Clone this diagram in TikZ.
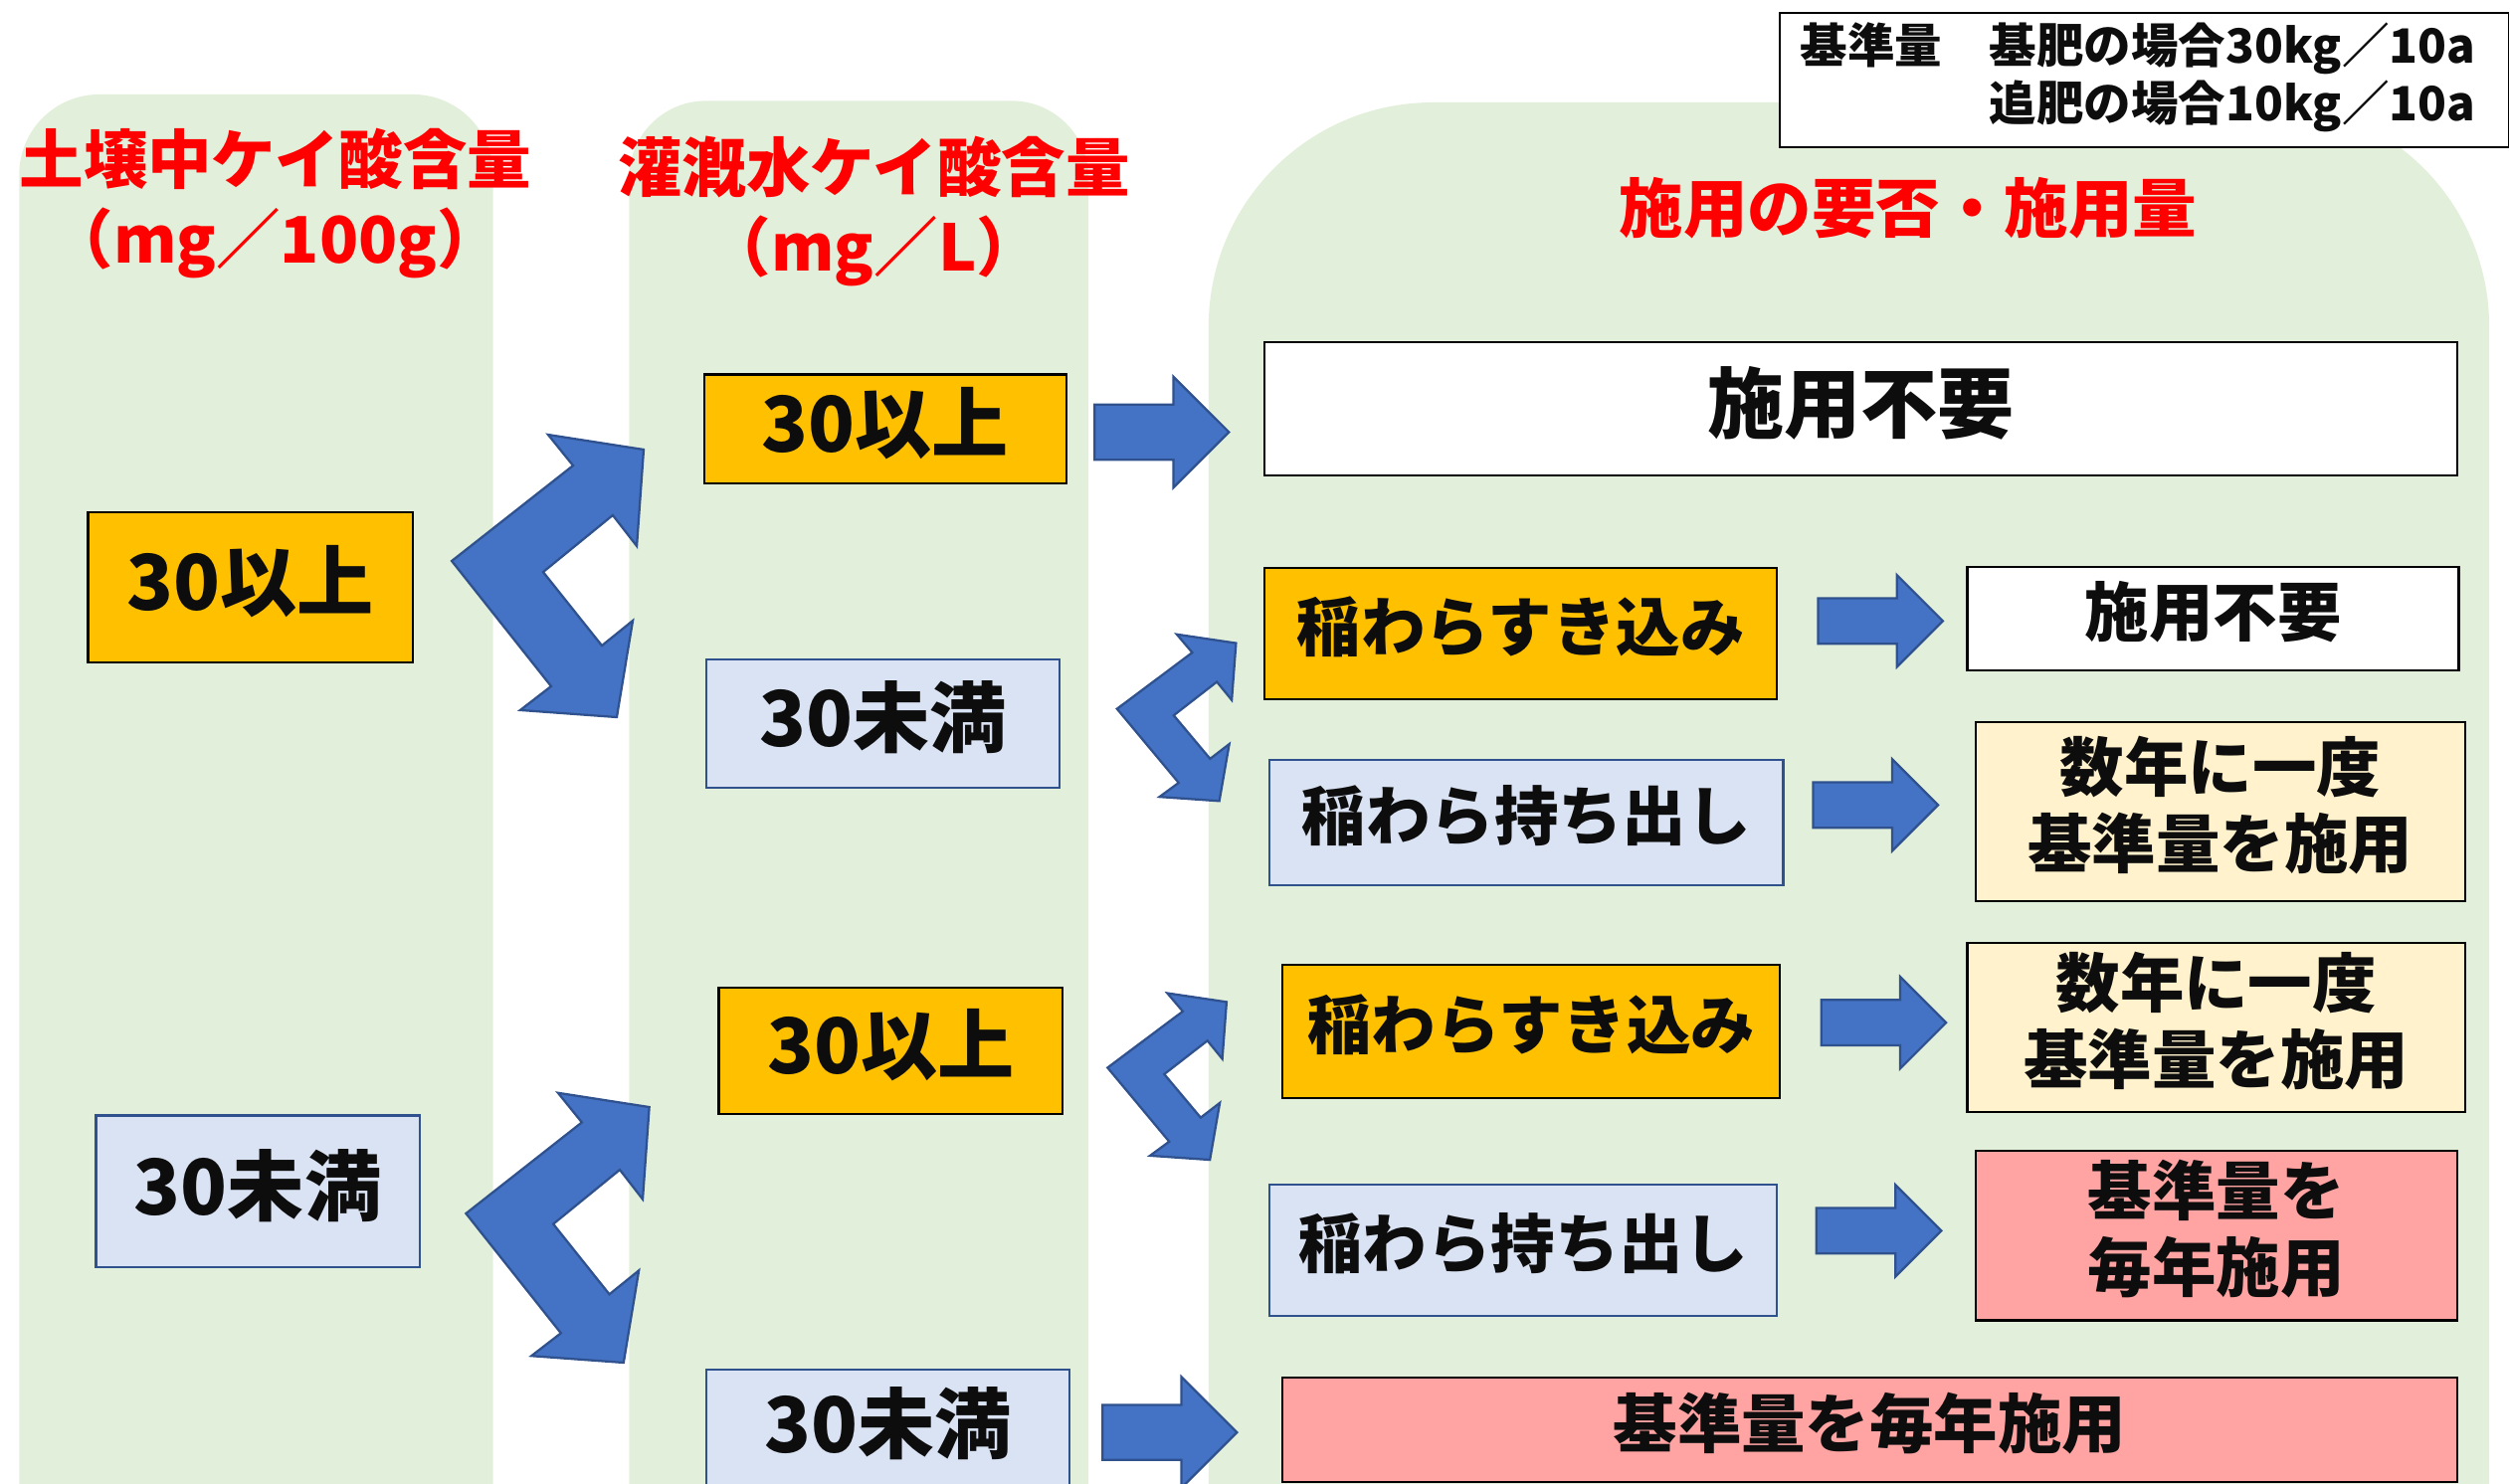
\documentclass[tikz,border=0pt]{standalone}
\usepackage{fontspec}
\setmainfont{Noto Sans CJK JP}
\usepackage{tikz}
\usetikzlibrary{shapes.arrows,positioning}

\definecolor{panelgreen}{HTML}{E2EFDA}
\definecolor{boxorange}{HTML}{FFC000}
\definecolor{boxblue}{HTML}{DAE3F3}
\definecolor{boxyellow}{HTML}{FFF2CC}
\definecolor{boxpink}{HTML}{FFA3A3}
\definecolor{arrowblue}{HTML}{4472C4}
\definecolor{arrowedge}{HTML}{2F528F}
\definecolor{inkblack}{HTML}{0D0D0D}

\def\pxl{0.02cm}

\tikzset{
  blockarrow/.style={fill=arrowblue, draw=arrowedge, line width=0.8pt},
  pics/forkarrow/.style={code={
    \draw[blockarrow] (0,0) -- (75.8,-59.6) -- (60.2,-78.9) -- (119.9,-69.6) -- (115.6,-9.3)
      -- (100.6,-28.6) -- (57.1,6.9) -- (93.8,52.9) -- (113.1,37.3) -- (103.1,97.6)
      -- (42.8,93.2) -- (62.1,78.3) -- cycle;
  }}
}

\begin{document}
\begin{tikzpicture}[x=\pxl, y=-\pxl,
  panel/.style={fill=panelgreen},
  heading/.style={text=red, align=center, font=\bfseries\fontsize{22.8}{28.5}\selectfont},
  cell/.style={draw=black, line width=0.75pt, text=inkblack, inner sep=0pt, align=center,
    execute at end node={\rule[-0.24cm]{0pt}{0pt}}},
  hicell/.style={cell, fill=boxorange},
  locell/.style={cell, fill=boxblue, draw=arrowedge},
  plaincell/.style={cell, fill=white},
  oncecell/.style={cell, fill=boxyellow},
  yearcell/.style={cell, fill=boxpink},
  bigtext/.style={font=\bfseries\fontsize{27.3}{32}\selectfont},
  midtext/.style={font=\bfseries\fontsize{22.8}{27.3}\selectfont},
  bigarrow/.style={blockarrow, single arrow, anchor=west, inner xsep=0pt, inner ysep=16.5*\pxl, minimum height=84*\pxl, minimum width=68*\pxl, single arrow head extend=17.5*\pxl},
  smallarrow/.style={blockarrow, single arrow, anchor=west, inner xsep=0pt, inner ysep=13.5*\pxl, minimum height=78*\pxl, minimum width=56*\pxl, single arrow head extend=14.5*\pxl}]
\useasboundingbox (0,0) rectangle (1568,927);
\clip (0,0) rectangle (1568,927);

% --- Background panels ---
\fill[panel, rounded corners=50*\pxl] (12,1000) rectangle (308,59);
\fill[panel, rounded corners=48*\pxl] (393,1000) rectangle (680,63);
\fill[panel, rounded corners=140*\pxl] (755,1100) rectangle (1555,64);

% Column headings
\node[heading] (Hsoil) at (172,127) {土壌中ケイ酸含量\\（mg／100g）};
\node[heading] (Hwater) at (546,132) {灌漑水ケイ酸含量\\（mg／L）};
\node[heading] (Hneed) at (1192,130) {施用の要否・施用量};

% Reference amount
\node[draw=black, line width=0.6pt, fill=white, inner sep=0pt, minimum width=455*\pxl, minimum height=84*\pxl] (Ref) at (1339.5,50) {};
\node[anchor=west, inner sep=0pt, text=inkblack, font=\bfseries\fontsize{16.8}{19.9}\selectfont, right=13*\pxl of Ref.west] (RefT)
  {\begin{tabular}{@{}l@{}l@{}}基準量　&基肥の場合30kg／10a\\&追肥の場合10kg／10a\end{tabular}};

% --- Soil column ---
\node[hicell, bigtext, minimum width=203*\pxl, minimum height=94*\pxl] (S1) at (156.5,367) {30以上};
\node[locell, bigtext, minimum width=202*\pxl, minimum height=95*\pxl] (S2) at (161,744.5) {30未満};

% --- Water column ---
\node[hicell, bigtext, minimum width=226*\pxl, minimum height=68*\pxl] (W1) at (553,268) {30以上};
\node[locell, bigtext, minimum width=221*\pxl, minimum height=80*\pxl] (W2) at (551.5,452) {30未満};
\node[hicell, bigtext, minimum width=215*\pxl, minimum height=79*\pxl] (W3) at (556.5,656.5) {30以上};
\node[locell, bigtext, minimum width=227*\pxl, minimum height=74*\pxl] (W4) at (554.5,893) {30未満};

% --- Straw handling ---
\node[plaincell, bigtext, minimum width=745*\pxl, minimum height=83*\pxl] (R1) at (1162.5,255.5) {施用不要};
\node[hicell, midtext, minimum width=320*\pxl, minimum height=82*\pxl] (R2) at (950,396) {稲わらすき込み};
\node[locell, midtext, minimum width=321*\pxl, minimum height=78*\pxl] (R3) at (953.5,514) {稲わら持ち出し};
\node[hicell, midtext, minimum width=311*\pxl, minimum height=83*\pxl] (R4) at (956.5,644.5) {稲わらすき込み};
\node[locell, midtext, minimum width=317*\pxl, minimum height=82*\pxl] (R5) at (951.5,781) {稲わら持ち出し};
\node[yearcell, midtext, minimum width=734*\pxl, minimum height=65*\pxl] (R6) at (1168,893.5) {基準量を毎年施用};

% --- Amount ---
\node[plaincell, midtext, minimum width=307*\pxl, minimum height=65*\pxl] (D1) at (1382.5,386.5) {施用不要};
\node[oncecell, midtext, minimum width=306*\pxl, minimum height=112*\pxl] (D2) at (1387,507) {数年に一度\\基準量を施用};
\node[oncecell, midtext, minimum width=311*\pxl, minimum height=106*\pxl] (D3) at (1384.5,642) {数年に一度\\基準量を施用};
\node[yearcell, midtext, minimum width=301*\pxl, minimum height=106*\pxl] (D4) at (1384.5,772) {基準量を\\毎年施用};

% Straight block arrows
\node[bigarrow] (A1) at (683,270) {};
\node[smallarrow] (A2) at (1135,388) {};
\node[smallarrow] (A3) at (1132,503) {};
\node[smallarrow] (A4) at (1137,639) {};
\node[smallarrow] (A5) at (1134,769) {};
\node[bigarrow] (A6) at (688,895) {};

% Forked block arrows
\pic at (282.2,350.5) {forkarrow};
\pic[scale=0.955] at (291.1,758.2) {forkarrow};
\pic[xscale=0.62, yscale=0.59] at (697.8,442.9) {forkarrow};
\pic[xscale=0.62, yscale=0.59] at (691.9,667.1) {forkarrow};
\end{tikzpicture}
\end{document}
